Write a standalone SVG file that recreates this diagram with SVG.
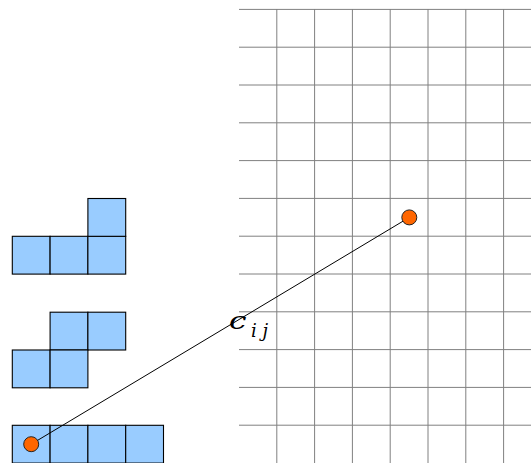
<svg xmlns="http://www.w3.org/2000/svg" width="531" height="463" viewBox="0 0 531 463">
<style>
.g{stroke:#808080;stroke-width:1;fill:none}
.sq{fill:#99ccff;stroke:#000;stroke-width:1.1}
.pt{fill:#ff6600;stroke:#222;stroke-width:1}
.lbl{font-family:"DejaVu Serif","Liberation Serif",serif;font-style:italic;fill:#000}
</style>
<rect width="531" height="463" fill="#fff"/>
<g id="grid">
<path class="g" d="M239,9.4H531M239,47.2H531M239,85H531M239,122.8H531M239,160.6H531M239,198.4H531M239,236.2H531M239,274H531M239,311.8H531M239,349.6H531M239,387.4H531M239,425.2H531"/>
<path class="g" d="M276.8,9V463M314.6,9V463M352.4,9V463M390.2,9V463M428,9V463M465.8,9V463M503.6,9V463"/>
</g>
<g id="piece-L">
<rect class="sq" x="12.3" y="236.3" width="37.8" height="37.8"/>
<rect class="sq" x="50.1" y="236.3" width="37.8" height="37.8"/>
<rect class="sq" x="87.9" y="236.3" width="37.8" height="37.8"/>
<rect class="sq" x="87.9" y="198.5" width="37.8" height="37.8"/>
</g>
<g id="piece-S">
<rect class="sq" x="50.1" y="312.2" width="37.8" height="37.8"/>
<rect class="sq" x="87.9" y="312.2" width="37.8" height="37.8"/>
<rect class="sq" x="12.3" y="350" width="37.8" height="37.8"/>
<rect class="sq" x="50.1" y="350" width="37.8" height="37.8"/>
</g>
<g id="piece-I">
<rect class="sq" x="12.3" y="425.3" width="37.8" height="37.8"/>
<rect class="sq" x="50.1" y="425.3" width="37.8" height="37.8"/>
<rect class="sq" x="87.9" y="425.3" width="37.8" height="37.8"/>
<rect class="sq" x="125.7" y="425.3" width="37.8" height="37.8"/>
</g>
<g id="connectors">
<line x1="31.2" y1="444.2" x2="409.3" y2="217.4" stroke="#000" stroke-width="1"/>
</g>
<g id="point-a"><circle class="pt" cx="31.2" cy="444.2" r="7.5"/></g>
<g id="point-b"><circle class="pt" cx="409.3" cy="217.4" r="7.5"/></g>
<g id="label">
<text class="lbl" font-size="25" transform="translate(229,329) scale(1.25,1)">c</text>
<text class="lbl" x="251" y="337" font-size="18">i j</text>
</g>
</svg>
